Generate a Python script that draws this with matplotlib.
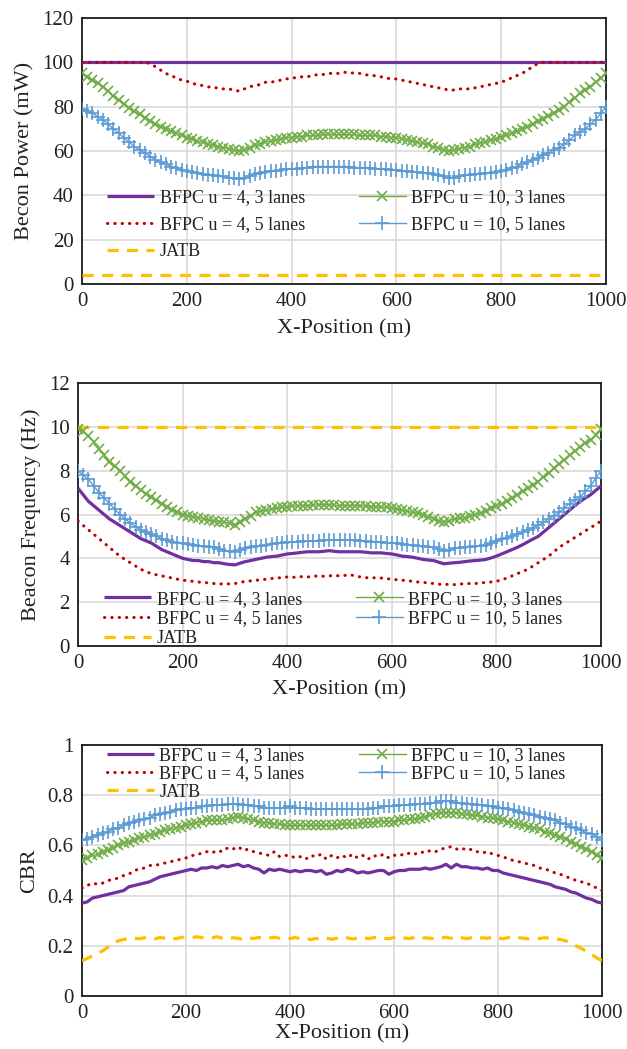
import numpy as np
import matplotlib
matplotlib.use("Agg")
import matplotlib.pyplot as plt

x = list(range(0, 1001, 10))

labels = ["BFPC u = 4, 3 lanes", "BFPC u = 4, 5 lanes", "JATB",
          "BFPC u = 10, 3 lanes", "BFPC u = 10, 5 lanes"]

# ---------------- Panel 1: Beacon power (mW) ----------------
P_u4_3 = [100] * 101
P_u4_5 = [100, 100, 100, 100, 100, 100, 100, 100, 100, 100, 100, 100, 100,
          99.5, 98, 96.5, 95, 94, 93, 92, 91.5, 90.5, 90, 89.5, 89, 88.5, 88.5, 88, 88, 87.5, 87,
          88, 89, 89.5, 90, 91, 91, 91.5, 92, 92.5, 93, 93, 93.5, 93.5, 94, 94.5, 94.5, 95, 95, 95,
          95.5, 95.5, 95, 95, 94.5, 94, 94, 93.5, 93, 92.5, 92.5, 92, 91.5, 91, 90.5, 90, 89.5, 89,
          88.5, 88, 87.5, 87.5, 88, 88, 88, 88.5, 89, 89.5, 90, 90.5, 91, 92, 93, 94, 95, 96.5, 98, 99.5,
          100, 100, 100, 100, 100, 100, 100, 100, 100, 100, 100, 100, 100]
P_u10_3 = [95, 93.5, 92, 90.5, 89, 87, 85, 83, 81, 79.5, 78, 76.5, 75, 73.5, 72, 71, 70, 69, 68, 67,
           66, 65.5, 64.5, 64, 63, 62.5, 62, 61.5, 61, 60.5, 60, 60.5, 61.5, 62.5, 63, 64, 64.5, 65,
           65.5, 66, 66, 66.5, 66.5, 67, 67, 67, 67.5, 67.5, 67.5, 67.5, 67.5, 67.5, 67.5, 67, 67, 67,
           67, 66.5, 66.5, 66, 66, 65.5, 65, 64.5, 64, 63.5, 63, 62, 61.5, 60.5, 60, 60.5, 61, 61.5, 62,
           63, 63.5, 64, 65, 65.5, 66.5, 67, 68, 69, 70, 71, 72, 73.5, 74.5, 76, 77, 78.5, 80, 82, 84,
           86, 87.5, 89, 91, 93, 95]
P_u10_5 = [79, 78, 77, 75.5, 74, 72, 70, 68, 66, 64, 62, 60.5, 59, 57.5, 56, 55, 54, 53, 52.5, 51.5,
           51, 50.5, 50, 49.5, 49, 49, 48.5, 48.5, 48, 48, 47.5, 48, 48.5, 49.5, 50, 50.5, 51, 51, 51.5,
           52, 52, 52, 52.5, 52.5, 53, 53, 53, 53, 53, 53, 53, 53, 52.5, 52.5, 52.5, 52.5, 52, 52, 52,
           51.5, 51.5, 51, 51, 50.5, 50.5, 50, 50, 49.5, 49, 48.5, 48, 48, 48.5, 49, 49, 49.5, 49.5, 50,
           50, 50.5, 51, 51.5, 52.5, 53, 54, 55, 56, 57, 58, 59, 60.5, 61.5, 63, 65, 67, 68.5, 70, 72,
           74, 77, 80]
P_jatb = [4] * 101

# ---------------- Panel 2: Beacon frequency (Hz) ----------------
F_u4_3 = [7.2, 6.9, 6.6, 6.4, 6.2, 6.0, 5.8, 5.65, 5.5, 5.35, 5.2, 5.05, 4.9, 4.8, 4.7, 4.55, 4.4,
          4.3, 4.2, 4.1, 4.0, 3.95, 3.9, 3.9, 3.85, 3.85, 3.8, 3.8, 3.75, 3.72, 3.7, 3.78, 3.85, 3.9,
          3.95, 4.0, 4.05, 4.08, 4.1, 4.15, 4.2, 4.22, 4.25, 4.28, 4.3, 4.3, 4.3, 4.32, 4.35, 4.32, 4.3,
          4.3, 4.3, 4.3, 4.3, 4.28, 4.25, 4.25, 4.25, 4.22, 4.2, 4.15, 4.1, 4.08, 4.05, 4.0, 3.95, 3.92,
          3.9, 3.82, 3.75, 3.78, 3.8, 3.82, 3.85, 3.88, 3.9, 3.92, 3.95, 4.02, 4.1, 4.2, 4.3, 4.4, 4.5,
          4.62, 4.75, 4.88, 5.0, 5.2, 5.4, 5.6, 5.8, 6.0, 6.2, 6.4, 6.6, 6.75, 6.9, 7.1, 7.3]
F_u4_5 = [5.7, 5.5, 5.3, 5.1, 4.9, 4.7, 4.5, 4.3, 4.1, 3.95, 3.8, 3.65, 3.5, 3.4, 3.3, 3.25, 3.2,
          3.15, 3.1, 3.05, 3.0, 2.98, 2.95, 2.92, 2.9, 2.88, 2.85, 2.82, 2.85, 2.83, 2.85, 2.9, 2.95,
          2.97, 3.0, 3.02, 3.05, 3.08, 3.1, 3.12, 3.15, 3.13, 3.15, 3.17, 3.15, 3.18, 3.2, 3.18, 3.2,
          3.22, 3.2, 3.22, 3.25, 3.2, 3.15, 3.12, 3.1, 3.12, 3.1, 3.07, 3.05, 3.02, 3.0, 2.98, 2.95,
          2.92, 2.9, 2.88, 2.85, 2.82, 2.8, 2.82, 2.8, 2.82, 2.85, 2.85, 2.85, 2.88, 2.9, 2.92, 2.95,
          3.02, 3.1, 3.2, 3.3, 3.4, 3.5, 3.65, 3.8, 3.95, 4.1, 4.3, 4.5, 4.65, 4.8, 4.95, 5.1, 5.25,
          5.4, 5.55, 5.7]
F_u10_3 = [9.9, 9.8, 9.6, 9.3, 9.0, 8.7, 8.4, 8.2, 8.0, 7.75, 7.5, 7.3, 7.1, 6.95, 6.8, 6.65, 6.5,
           6.35, 6.2, 6.1, 6.0, 5.95, 5.9, 5.85, 5.8, 5.75, 5.7, 5.68, 5.65, 5.6, 5.5, 5.65, 5.8, 5.95,
           6.1, 6.15, 6.2, 6.25, 6.3, 6.32, 6.35, 6.38, 6.4, 6.4, 6.4, 6.42, 6.45, 6.45, 6.45, 6.42, 6.4,
           6.4, 6.4, 6.4, 6.4, 6.38, 6.35, 6.35, 6.35, 6.32, 6.3, 6.25, 6.2, 6.15, 6.1, 6.05, 6.0, 5.9,
           5.8, 5.72, 5.65, 5.72, 5.8, 5.82, 5.85, 5.92, 6.0, 6.08, 6.15, 6.28, 6.4, 6.5, 6.6, 6.75, 6.9,
           7.05, 7.2, 7.35, 7.5, 7.7, 7.9, 8.1, 8.3, 8.5, 8.7, 8.9, 9.1, 9.25, 9.4, 9.65, 9.9]
F_u10_5 = [8.0, 7.8, 7.6, 7.3, 7.0, 6.75, 6.5, 6.25, 6.0, 5.8, 5.6, 5.45, 5.3, 5.2, 5.1, 5.0, 4.9,
           4.82, 4.75, 4.72, 4.7, 4.65, 4.6, 4.58, 4.55, 4.52, 4.5, 4.42, 4.35, 4.32, 4.3, 4.38, 4.45,
           4.5, 4.55, 4.58, 4.6, 4.65, 4.7, 4.72, 4.75, 4.75, 4.75, 4.78, 4.8, 4.8, 4.8, 4.82, 4.85,
           4.85, 4.85, 4.85, 4.85, 4.82, 4.8, 4.78, 4.75, 4.75, 4.75, 4.72, 4.7, 4.68, 4.65, 4.62, 4.6,
           4.58, 4.55, 4.52, 4.5, 4.42, 4.35, 4.4, 4.45, 4.48, 4.5, 4.52, 4.55, 4.58, 4.6, 4.7, 4.8,
           4.88, 4.95, 5.02, 5.1, 5.2, 5.3, 5.4, 5.5, 5.65, 5.8, 5.95, 6.1, 6.3, 6.5, 6.65, 6.8, 7.05,
           7.3, 7.65, 8.0]
F_jatb = [10] * 101

# ---------------- Panel 3: CBR ----------------
C_u4_3 = [0.37, 0.375, 0.39, 0.395, 0.40, 0.405, 0.41, 0.415, 0.42, 0.435, 0.44, 0.445, 0.45, 0.455,
          0.465, 0.475, 0.48, 0.485, 0.49, 0.495, 0.50, 0.505, 0.50, 0.51, 0.51, 0.515, 0.51, 0.52,
          0.515, 0.52, 0.525, 0.515, 0.52, 0.51, 0.505, 0.49, 0.505, 0.50, 0.505, 0.50, 0.495, 0.50,
          0.495, 0.50, 0.50, 0.495, 0.50, 0.485, 0.49, 0.50, 0.495, 0.505, 0.50, 0.49, 0.495, 0.49,
          0.495, 0.50, 0.50, 0.485, 0.495, 0.50, 0.50, 0.505, 0.505, 0.505, 0.51, 0.505, 0.51, 0.515,
          0.525, 0.51, 0.525, 0.515, 0.515, 0.51, 0.51, 0.505, 0.51, 0.50, 0.50, 0.49, 0.485, 0.48,
          0.475, 0.47, 0.465, 0.46, 0.455, 0.45, 0.445, 0.435, 0.43, 0.425, 0.415, 0.41, 0.40, 0.39,
          0.385, 0.375, 0.37]
C_u4_5 = [0.43, 0.44, 0.45, 0.445, 0.45, 0.46, 0.465, 0.47, 0.48, 0.485, 0.50, 0.505, 0.51, 0.52,
          0.52, 0.525, 0.53, 0.535, 0.54, 0.545, 0.55, 0.56, 0.56, 0.57, 0.575, 0.57, 0.58, 0.575,
          0.59, 0.585, 0.595, 0.58, 0.585, 0.575, 0.57, 0.565, 0.56, 0.575, 0.555, 0.56, 0.56, 0.55,
          0.555, 0.545, 0.56, 0.555, 0.565, 0.545, 0.56, 0.55, 0.56, 0.55, 0.565, 0.55, 0.56, 0.545,
          0.56, 0.555, 0.565, 0.55, 0.56, 0.565, 0.56, 0.57, 0.565, 0.575, 0.57, 0.58, 0.575, 0.585,
          0.59, 0.595, 0.585, 0.59, 0.58, 0.585, 0.575, 0.57, 0.575, 0.565, 0.56, 0.555, 0.545, 0.54,
          0.535, 0.53, 0.525, 0.52, 0.51, 0.505, 0.50, 0.49, 0.485, 0.475, 0.47, 0.46, 0.455, 0.45,
          0.44, 0.43, 0.42]
C_u10_3 = [0.54, 0.55, 0.56, 0.565, 0.575, 0.58, 0.59, 0.60, 0.61, 0.615, 0.62, 0.63, 0.635, 0.64,
           0.645, 0.655, 0.66, 0.665, 0.67, 0.675, 0.68, 0.685, 0.69, 0.695, 0.70, 0.70, 0.70, 0.70,
           0.705, 0.71, 0.715, 0.71, 0.705, 0.70, 0.695, 0.69, 0.69, 0.685, 0.685, 0.68, 0.68, 0.68,
           0.68, 0.68, 0.68, 0.68, 0.68, 0.68, 0.68, 0.68, 0.685, 0.685, 0.685, 0.685, 0.69, 0.69, 0.69,
           0.695, 0.695, 0.695, 0.695, 0.70, 0.70, 0.705, 0.705, 0.71, 0.715, 0.72, 0.725, 0.73, 0.73,
           0.73, 0.73, 0.725, 0.725, 0.72, 0.72, 0.715, 0.71, 0.71, 0.705, 0.70, 0.695, 0.69, 0.685,
           0.68, 0.675, 0.67, 0.665, 0.655, 0.65, 0.64, 0.635, 0.625, 0.615, 0.605, 0.595, 0.585,
           0.575, 0.56, 0.55]
C_u10_5 = [0.62, 0.625, 0.635, 0.64, 0.65, 0.655, 0.665, 0.67, 0.68, 0.69, 0.695, 0.70, 0.705, 0.71,
           0.72, 0.725, 0.73, 0.735, 0.74, 0.745, 0.745, 0.75, 0.75, 0.755, 0.755, 0.76, 0.76, 0.76,
           0.765, 0.765, 0.765, 0.76, 0.76, 0.755, 0.755, 0.75, 0.75, 0.75, 0.75, 0.75, 0.755, 0.75,
           0.75, 0.75, 0.745, 0.745, 0.745, 0.745, 0.745, 0.745, 0.745, 0.745, 0.745, 0.745, 0.745,
           0.745, 0.75, 0.75, 0.755, 0.755, 0.755, 0.76, 0.76, 0.76, 0.765, 0.765, 0.765, 0.77, 0.77,
           0.775, 0.775, 0.775, 0.77, 0.77, 0.765, 0.765, 0.76, 0.76, 0.755, 0.755, 0.75, 0.75, 0.745,
           0.74, 0.735, 0.73, 0.725, 0.72, 0.715, 0.71, 0.705, 0.70, 0.69, 0.685, 0.675, 0.67, 0.66,
           0.65, 0.645, 0.635, 0.62]
C_jatb = [0.14, 0.15, 0.16, 0.17, 0.18, 0.195, 0.21, 0.22, 0.225, 0.23, 0.23, 0.228, 0.232, 0.23,
          0.228, 0.233, 0.23, 0.232, 0.228, 0.233, 0.235, 0.232, 0.236, 0.233, 0.235, 0.232, 0.236,
          0.23, 0.228, 0.232, 0.23, 0.226, 0.232, 0.229, 0.233, 0.228, 0.231, 0.234, 0.23, 0.232,
          0.229, 0.233, 0.228, 0.23, 0.225, 0.229, 0.227, 0.231, 0.226, 0.23, 0.228, 0.232, 0.227,
          0.23, 0.233, 0.229, 0.232, 0.235, 0.23, 0.228, 0.233, 0.236, 0.231, 0.229, 0.233, 0.228,
          0.232, 0.23, 0.227, 0.231, 0.234, 0.23, 0.226, 0.232, 0.229, 0.233, 0.228, 0.232, 0.23,
          0.235, 0.231, 0.228, 0.233, 0.229, 0.232, 0.23, 0.228, 0.231, 0.229, 0.232, 0.23, 0.228,
          0.225, 0.22, 0.21, 0.2, 0.19, 0.178, 0.165, 0.152, 0.14]

# ---------------- styling ----------------
plt.rcParams['font.family'] = ['Liberation Serif', 'DejaVu Serif']
PURPLE = '#7030A0'
RED = '#C00000'
YELLOW = '#FFC000'
GREEN = '#70AD47'
BLUE = '#5B9BD5'

W, H = 627, 1049
fig = plt.figure(figsize=(W / 100, H / 100), dpi=100)


def add_ax(left, top, right, bottom):
    return fig.add_axes([left / W, 1 - bottom / H, (right - left) / W, (bottom - top) / H])


def draw(ax, s43, s45, sj, s103, s105, ylim, yticks, ylabel, leg_x, leg_top, lspace, xlpad):
    l1, = ax.plot(x, s43, color=PURPLE, lw=2.3, solid_capstyle='butt', zorder=3)
    l2, = ax.plot(x, s45, color=RED, lw=2.2, linestyle=(0, (0.1, 2.3)),
                  dash_capstyle='round', zorder=3)
    l3, = ax.plot(x, sj, color=YELLOW, lw=2.3, linestyle=(0, (3.5, 2.6)), zorder=3)
    l4, = ax.plot(x, s103, color=GREEN, lw=1.0, marker='x', ms=7, mew=1.2, zorder=3)
    l5, = ax.plot(x, s105, color=BLUE, lw=1.0, marker='+', ms=10, mew=1.2, zorder=3)
    ax.set_xlim(0, 1000)
    ax.set_ylim(*ylim)
    ax.set_xticks(range(0, 1001, 200))
    ax.set_yticks(yticks)
    ax.grid(True, color='#D9D9D9', lw=1.2, zorder=0)
    ax.set_axisbelow(True)
    ax.tick_params(length=0, labelsize=15, pad=6, colors='#222222')
    for sp in ax.spines.values():
        sp.set_color('#1a1a1a')
        sp.set_linewidth(1.3)
    ax.set_xlabel('X-Position (m)', fontsize=16, color='#222222', labelpad=xlpad)
    ax.set_ylabel(ylabel, fontsize=16, color='#222222', labelpad=6)
    leg = ax.legend([l1, l2, l3, l4, l5], labels, ncol=2, frameon=False, fontsize=13,
                    loc='upper left', bbox_to_anchor=(leg_x, leg_top), borderaxespad=0,
                    borderpad=0, handlelength=2.6, handletextpad=0.3, columnspacing=3.0,
                    labelspacing=lspace)
    for t in leg.get_texts():
        t.set_color('#222222')
    return ax


ax1 = add_ax(82, 18, 606, 284)
draw(ax1, P_u4_3, P_u4_5, P_jatb, P_u10_3, P_u10_5, (0, 120), range(0, 121, 20),
     'Becon Power (mW)', 0.048, 0.355, 0.55, 6)

ax2 = add_ax(78, 383, 601, 646)
draw(ax2, F_u4_3, F_u4_5, F_jatb, F_u10_3, F_u10_5, (0, 12), range(0, 13, 2),
     'Beacon Frequency (Hz)', 0.05, 0.21, 0.14, 5)

ax3 = add_ax(82, 745, 602, 996)
draw(ax3, C_u4_3, C_u4_5, C_jatb, C_u10_3, C_u10_5, (0, 1), [0, 0.2, 0.4, 0.6, 0.8, 1],
     'CBR', 0.048, 0.99, 0.06, 1)
ax3.set_yticklabels(['0', '0.2', '0.4', '0.6', '0.8', '1'])

fig.savefig('out.png', dpi=100)
